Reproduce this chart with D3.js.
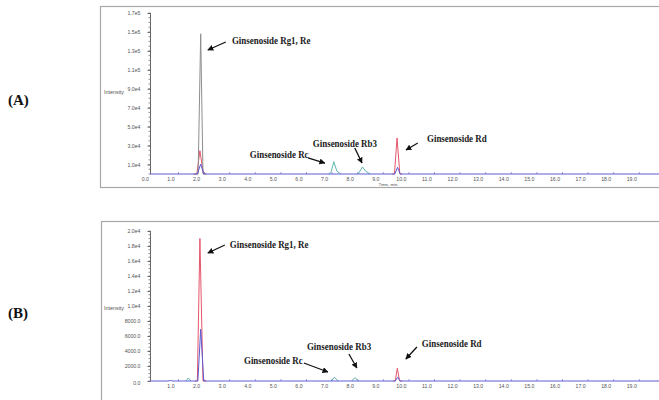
<!DOCTYPE html>
<html>
<head>
<meta charset="utf-8">
<script src="https://cdn.jsdelivr.net/npm/d3@7"></script>
<style>
  body { margin: 0; background: #fff; }
  svg { display: block; }
</style>
</head>
<body>
<svg id="chart" width="659" height="400"></svg>
<script>
// ---------- data ----------
// retention time ticks (min)
const timeTicksA = [0, 1, 2, 3, 4, 5, 6, 7, 8, 9, 10, 11, 12, 13, 14, 15, 16, 17, 18, 19];
const timeTicksB = [1, 2, 3, 4, 5, 6, 7, 8, 9, 10, 11, 12, 13, 14, 15, 16, 17, 18, 19];

// intensity ticks and their labels
const intensityTicksA = [10000, 30000, 50000, 70000, 90000, 110000, 130000, 150000, 170000];
const intensityLabelsA = ["1.0e4", "3.0e4", "5.0e4", "7.0e4", "9.0e4", "1.1e5", "1.3e5", "1.5e5", "1.7e5"];
const intensityTicksB = [0, 2000, 4000, 6000, 8000, 10000, 12000, 14000, 16000, 18000, 20000];
const intensityLabelsB = ["0.0", "2000.0", "4000.0", "6000.0", "8000.0", "1.0e4", "1.2e4", "1.4e4", "1.6e4", "1.8e4", "2.0e4"];

// chromatogram traces: each trace is a list of peaks, each peak a list of [time, intensity]
const greyTraceA = [
  [[1.95, 0], [2.08, 0], [2.18, 148000], [2.27, 0], [2.4, 0]]
];
const redTraceA = [
  [[1.9, 0], [2.03, 0], [2.15, 24600], [2.27, 3000], [2.38, 0]],
  [[9.65, 0], [9.75, 0], [9.85, 38000], [9.96, 0], [10.05, 0]]
];
const blueTraceA = [
  [[0.2, 0], [2.05, 0], [2.18, 10500], [2.3, 0], [9.76, 0], [9.87, 7000], [9.97, 0], [20.2, 0]]
];
const tealTraceA = [
  [[7.18, 0], [7.28, 2500], [7.38, 13000], [7.5, 3000], [7.65, 0]],
  [[8.33, 0], [8.5, 7500], [8.62, 3000], [8.8, 0]]
];

const greyTraceB = [];
const redTraceB = [
  [[1.95, 0], [2.05, 0], [2.15, 19000], [2.27, 0], [2.4, 0]],
  [[9.7, 0], [9.78, 0], [9.86, 1700], [9.95, 0], [10.05, 0]]
];
const blueTraceB = [
  [[0.2, 0], [0.9, 0], [1.0, 60], [1.1, 0], [2.07, 0], [2.18, 6900], [2.3, 0], [9.78, 0], [9.88, 500], [9.97, 0], [20.2, 0]]
];
const tealTraceB = [
  [[1.6, 0], [1.7, 400], [1.8, 0]],
  [[7.28, 0], [7.4, 500], [7.55, 0]],
  [[8.08, 0], [8.2, 450], [8.35, 0]]
];

// compound annotations: label anchor and arrow (tail -> head) in [time, intensity]
const compoundNames = ["Ginsenoside Rg1, Re", "Ginsenoside Rc", "Ginsenoside Rb3", "Ginsenoside Rd"];
const labelAnchorsA = [[3.40, 137300], [4.10, 16400], [6.56, 29000], [11.02, 33300]];
const arrowTailsA   = [[3.16, 139400], [6.37, 16900], [8.20, 27500], [10.66, 32700]];
const arrowHeadsA   = [[2.46, 130900], [7.03, 11600], [8.48, 11600], [10.20, 25300]];
const labelAnchorsB = [[3.32, 17700], [3.87, 2330], [6.33, 4070], [10.82, 4600]];
const arrowTailsB   = [[3.125, 18130], [6.21, 2400], [7.97, 3600], [10.625, 4530]];
const arrowHeadsB   = [[2.46, 17070], [7.15, 1200], [8.28, 1730], [10.195, 2930]];

// ---------- drawing ----------
const svg = d3.select("#chart");

const defs = svg.append("defs");
defs.append("marker")
  .attr("id", "arrowhead")
  .attr("viewBox", "0 0 10 10")
  .attr("refX", 9).attr("refY", 5)
  .attr("markerWidth", 6).attr("markerHeight", 6)
  .attr("markerUnits", "userSpaceOnUse")
  .attr("orient", "auto")
  .append("path")
  .attr("d", "M0,0 L10,5 L0,10 Z")
  .attr("fill", "#111");

const colors = { grey: "#8d8d8d", red: "#e4566c", blue: "#5c5cd2", teal: "#5fb3b0" };
const smallFont = "Liberation Sans, Arial, sans-serif";

function drawPanel(cfg) {
  const g = svg.append("g");

  // outer frame
  g.append("rect")
    .attr("x", cfg.frame.x).attr("y", cfg.frame.y)
    .attr("width", cfg.frame.w).attr("height", cfg.frame.h)
    .attr("fill", "none").attr("stroke", "#a8a8a8").attr("stroke-width", 1.2);

  const x = d3.scaleLinear().domain([0.2, 20.2]).range([150, 150 + 20 * 25.6]);
  const y = d3.scaleLinear().domain([0, cfg.yMax]).range([cfg.y0, cfg.yTop]);

  // y axis with minor ticks
  const yMinor = d3.range(cfg.yMinorStart, cfg.yMax + 1, cfg.yMinorStep);
  g.append("line")
    .attr("x1", 150.5).attr("x2", 150.5)
    .attr("y1", y(cfg.yMax)).attr("y2", cfg.y0)
    .attr("stroke", "#666").attr("stroke-width", 1);
  g.selectAll(".yminor").data(yMinor).join("line")
    .attr("x1", 148.5).attr("x2", 150.5)
    .attr("y1", d => y(d)).attr("y2", d => y(d))
    .attr("stroke", "#777").attr("stroke-width", 0.8);
  const yAxis = d3.axisLeft(y)
    .tickValues(cfg.yTicks)
    .tickFormat((d, i) => cfg.yLabels[i])
    .tickSize(3).tickPadding(7);
  const ya = g.append("g").attr("transform", "translate(150.5,0)").call(yAxis);
  ya.select(".domain").remove();
  ya.selectAll(".tick line").attr("stroke", "#666");
  ya.selectAll(".tick text")
    .attr("font-family", smallFont)
    .attr("font-size", 5.2).attr("fill", "#555");
  ya.selectAll(".tick text").filter(d => d === 0).attr("dy", "0.7em");

  g.append("text")
    .attr("x", 114).attr("y", cfg.intensityY)
    .attr("text-anchor", "middle")
    .attr("dominant-baseline", "middle")
    .attr("font-family", smallFont)
    .attr("font-size", 5.4).attr("fill", "#555")
    .text("Intensity");

  // x axis labels and small upward ticks
  const xAxis = d3.axisBottom(x)
    .tickValues(cfg.xTicks)
    .tickFormat(d3.format(".1f"))
    .tickSize(0).tickPadding(3);
  const xa = g.append("g").attr("transform", `translate(0,${cfg.y0})`).call(xAxis);
  xa.select(".domain").remove();
  xa.selectAll(".tick text")
    .attr("font-family", smallFont)
    .attr("font-size", 5.2).attr("fill", "#555");
  g.selectAll(".xtick").data(d3.range(1, 21)).join("line")
    .attr("x1", d => x(d) + 8).attr("x2", d => x(d) + 8)
    .attr("y1", cfg.y0 - 2).attr("y2", cfg.y0)
    .attr("stroke", "#8a8ad8").attr("stroke-width", 0.8);

  if (cfg.timeLabel) {
    g.append("text")
      .attr("x", 388).attr("y", cfg.y0 + 11)
      .attr("dominant-baseline", "middle")
      .attr("text-anchor", "middle")
      .attr("font-family", smallFont)
      .attr("font-size", 4.4).attr("fill", "#555")
      .text("Time, min");
  }

  // traces
  const line = d3.line().x(d => x(d[0])).y(d => y(d[1]));
  const traces = [
    [cfg.teal, colors.teal],
    [cfg.red, colors.red],
    [cfg.grey, colors.grey],
    [cfg.blue, colors.blue]
  ];
  traces.forEach(([peaks, color]) => {
    g.selectAll(null).data(peaks).join("path")
      .attr("d", line)
      .attr("fill", "none")
      .attr("stroke", color)
      .attr("stroke-width", 1)
      .attr("stroke-linejoin", "round");
  });

  // annotations
  compoundNames.forEach((name, i) => {
    const [tx, ty] = cfg.labels[i];
    const px = x(tx), py = y(ty);
    g.append("text")
      .attr("transform", `translate(${px},${py}) scale(0.85,1)`)
      .attr("font-family", "Liberation Serif, Times New Roman, serif")
      .attr("font-weight", "bold")
      .attr("font-size", 10.5)
      .attr("fill", "#1a1a1a")
      .text(name);
    const [ax, ay] = cfg.tails[i];
    const [bx, by] = cfg.heads[i];
    g.append("line")
      .attr("x1", x(ax)).attr("y1", y(ay))
      .attr("x2", x(bx)).attr("y2", y(by))
      .attr("stroke", "#111").attr("stroke-width", 1.3)
      .attr("marker-end", "url(#arrowhead)");
  });

  // panel letter
  svg.append("text")
    .attr("x", 8).attr("y", cfg.letterY)
    .attr("font-family", "Liberation Serif, Times New Roman, serif")
    .attr("font-weight", "bold")
    .attr("font-size", 15)
    .attr("fill", "#111")
    .text(cfg.letter);
}

drawPanel({
  frame: { x: 100.5, y: 6.5, w: 600, h: 181 },
  yMax: 170000, y0: 174, yTop: 13,
  yTicks: intensityTicksA, yLabels: intensityLabelsA,
  yMinorStart: 0, yMinorStep: 5000,
  xTicks: timeTicksA, intensityY: 93, timeLabel: true,
  grey: greyTraceA, red: redTraceA, blue: blueTraceA, teal: tealTraceA,
  labels: labelAnchorsA, tails: arrowTailsA, heads: arrowHeadsA,
  letter: "(A)", letterY: 105
});

drawPanel({
  frame: { x: 101.5, y: 221.5, w: 600, h: 200 },
  yMax: 20000, y0: 381, yTop: 231,
  yTicks: intensityTicksB, yLabels: intensityLabelsB,
  yMinorStart: 0, yMinorStep: 500,
  xTicks: timeTicksB, intensityY: 309, timeLabel: false,
  grey: greyTraceB, red: redTraceB, blue: blueTraceB, teal: tealTraceB,
  labels: labelAnchorsB, tails: arrowTailsB, heads: arrowHeadsB,
  letter: "(B)", letterY: 318
});
</script>
</body>
</html>
